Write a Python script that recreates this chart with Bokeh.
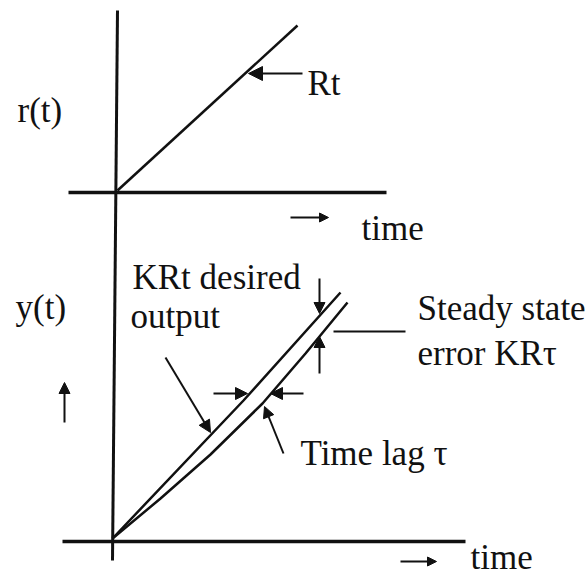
from bokeh.plotting import figure
from bokeh.models import Range1d, Arrow, NormalHead, ColumnDataSource
from bokeh.core.properties import value
from bokeh.embed import file_html
from bokeh.resources import INLINE

# ---------------- diagram data (in picture units) ----------------
# axes
vaxis_x = [117, 112]
vaxis_y = [10, 560]
top_haxis_x = [68, 386]
top_haxis_y = [192, 192]
bot_haxis_x = [62, 465]
bot_haxis_y = [541, 541]

# input ramp r(t) = Rt
ramp_x = [117, 297]
ramp_y = [190, 25]

# desired output KRt and actual output y(t)
desired_x = [112, 243, 340]
desired_y = [538, 400, 292]
actual_x = [112, 160, 210, 262, 305, 347]
actual_y = [538, 498, 454, 403, 353, 302]

# plain leader line (steady state error)
leader_x = [333, 405]
leader_y = [331, 331]

# arrows: start -> end (head at end)
arrow_x0 = [302, 165, 213, 303, 319, 319, 283, 64, 290, 400]
arrow_y0 = [73, 357, 393, 393, 278, 373, 453, 422, 217, 561]
arrow_x1 = [248, 210, 247, 270, 319, 319, 264, 64, 328, 436]
arrow_y1 = [73, 432, 393, 393, 313, 336, 406, 382, 217, 561]
arrow_head = [14, 12, 12, 12, 11, 11, 11, 11, 9, 9]

# texts
label_text = ["r(t)", "Rt", "time", "y(t)", "KRt desired", "output",
              "Steady state", "error KR\u03c4", "Time lag \u03c4", "time"]
label_x = [17, 307, 361, 15, 132, 130, 417, 417, 300, 470]
label_y = [110, 83, 228, 307, 277, 316, 308, 353, 453, 557]

# ---------------- figure ----------------
ink = "#111111"
p = figure(width=588, height=579, output_backend="svg", toolbar_location=None,
           x_range=Range1d(0, 588), y_range=Range1d(579, 0),
           x_axis_type=None, y_axis_type=None, min_border=0,
           outline_line_color=None, background_fill_color="white",
           border_fill_color="white")
p.grid.visible = False

p.line(vaxis_x, vaxis_y, line_color=ink, line_width=3)
p.line(top_haxis_x, top_haxis_y, line_color=ink, line_width=3.5)
p.line(bot_haxis_x, bot_haxis_y, line_color=ink, line_width=3.5)

p.line(ramp_x, ramp_y, line_color=ink, line_width=2.5)
p.line(desired_x, desired_y, line_color=ink, line_width=2.5)
p.line(actual_x, actual_y, line_color=ink, line_width=2.5)
p.line(leader_x, leader_y, line_color=ink, line_width=2)

for x0, y0, x1, y1, hs in zip(arrow_x0, arrow_y0, arrow_x1, arrow_y1, arrow_head):
    p.add_layout(Arrow(x_start=x0, y_start=y0, x_end=x1, y_end=y1,
                       line_color=ink, line_width=2,
                       end=NormalHead(size=hs, fill_color=ink, line_color=ink, line_width=1)))

src = ColumnDataSource(dict(x=label_x, y=label_y, t=label_text))
p.text(x="x", y="y", text="t", source=src, text_font=value("Liberation Serif"),
       text_font_size="35px", text_color=ink, text_baseline="alphabetic",
       text_align="left")

open("out.html", "w").write(file_html(p, INLINE))
